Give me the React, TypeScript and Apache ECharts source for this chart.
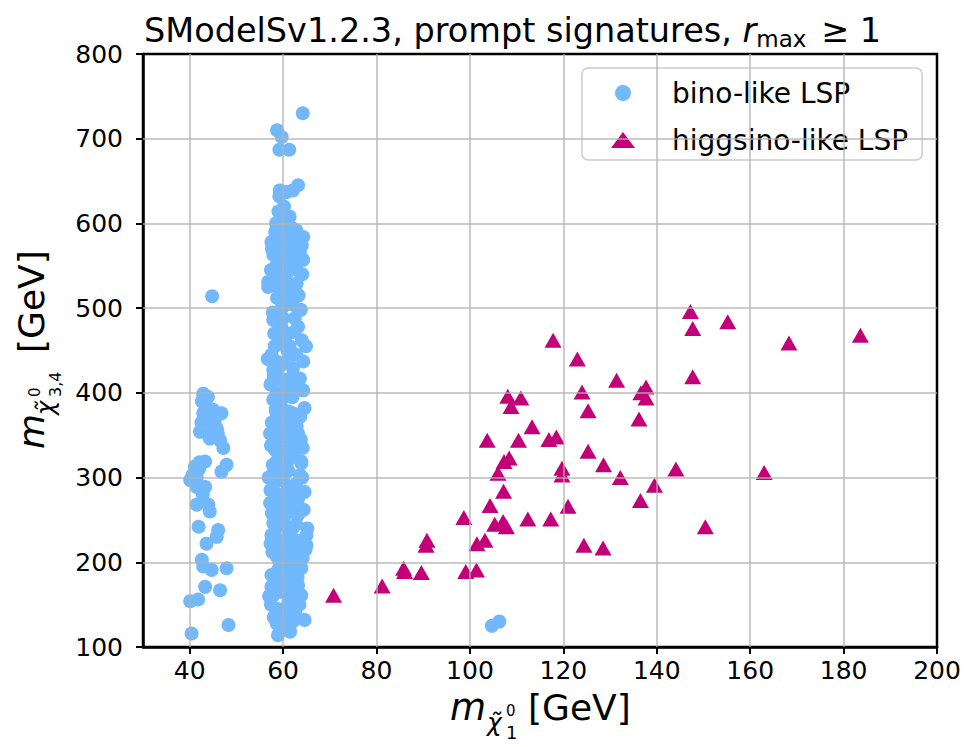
import React, { useEffect, useRef } from 'react';
import * as echarts from 'echarts';

const xTicks = [40, 60, 80, 100, 120, 140, 160, 180, 200];
const yTicks = [100, 200, 300, 400, 500, 600, 700, 800];
const xGrid = [40, 60, 80, 100, 120, 140, 160, 180];
const yGrid = [200, 300, 400, 500, 600, 700];

const seriesNames = ['bino-like LSP', 'higgsino-like LSP'];

const binoLeft: number[][] = [
  [44.8, 514], [42.9, 399], [42.6, 390], [43.6, 384], [45.0, 380], [46.8, 376], [42.9, 376], [44.3, 366],
  [42.2, 354], [45.8, 358], [44.3, 346], [46.5, 344], [47.2, 335], [43.3, 319], [41.1, 313], [47.9, 315],
  [46.8, 307], [40.1, 297], [41.5, 289], [43.3, 289], [41.5, 268], [44.0, 268], [44.3, 260], [41.9, 242],
  [46.1, 238], [45.8, 230], [43.6, 222], [42.6, 203], [42.9, 195], [44.7, 191], [47.9, 193], [43.3, 171],
  [46.5, 167], [41.8, 156], [40.1, 154], [48.3, 126], [40.4, 116], [40.6, 303], [42.1, 318], [44.9, 372],
  [43.9, 395], [43.0, 392], [44.0, 376], [45.5, 370], [44.5, 352], [42.5, 365], [46.0, 352], [41.5, 300],
  [42.8, 280], [42.0, 310],
];

const binoCentre: number[][] = [
  [64.2, 730], [58.7, 710], [59.7, 702], [59.2, 687], [61.3, 687], [59.3, 639], [60.7, 637], [63.2, 645],
  [62.1, 639], [59.2, 632], [59.0, 614], [61.4, 608], [60.0, 604], [59.3, 590], [57.5, 578], [64.3, 584],
  [57.9, 563], [63.6, 567], [58.6, 551], [64.3, 557], [56.8, 531], [60.7, 539], [59.0, 575], [61.0, 570],
  [62.0, 560], [60.0, 555], [63.0, 545], [58.0, 540], [61.0, 525], [62.0, 580], [64.0, 574], [59.0, 548],
  [56.8, 525], [59.3, 521], [62.9, 529], [62.1, 516], [62.1, 504], [60.0, 502], [57.9, 486], [60.0, 488],
  [63.2, 478], [60.7, 468], [58.2, 455], [61.4, 455], [58.6, 437], [64.3, 437], [57.9, 427], [62.1, 429],
  [58.6, 415], [63.6, 417], [64.3, 403], [58.6, 400], [60.7, 405], [57.9, 392], [64.6, 382], [58.6, 376],
  [62.1, 376], [58.9, 364], [62.5, 368], [57.2, 352], [63.2, 352], [59.3, 344], [62.1, 341], [58.2, 333],
  [60.7, 331], [63.9, 319], [58.6, 319], [60.7, 315], [58.6, 317], [63.9, 317], [57.9, 305], [63.6, 303],
  [64.6, 283], [57.2, 270], [62.1, 274], [58.6, 258], [63.2, 256], [57.9, 246], [60.7, 242], [65.0, 232],
  [57.5, 232], [65.0, 220], [59.3, 220], [62.5, 217], [58.6, 207], [61.4, 203], [63.9, 193], [58.9, 191],
  [57.5, 171], [63.2, 173], [60.4, 177], [57.9, 161], [63.9, 161], [61.8, 163], [60.7, 142], [60.0, 136],
  [64.6, 132], [62.1, 130], [58.6, 128], [58.9, 114], [60.0, 300], [61.0, 290], [59.0, 280], [62.0, 260],
  [60.0, 250], [61.0, 230], [59.0, 225], [62.0, 240], [60.0, 210], [63.0, 200], [60.0, 350], [61.0, 360],
  [59.0, 420], [61.0, 440], [60.0, 460], [62.0, 395], [59.0, 385], [60.0, 330], [61.0, 320], [60.0, 270],
  [57.0, 160], [59.5, 122],
  [58.3, 590], [60.4, 585], [62.8, 592], [57.6, 570], [63.4, 560], [59.8, 565], [61.7, 548], [57.4, 545],
  [64.1, 540], [60.2, 530], [62.6, 520], [58.7, 512], [61.3, 508], [63.8, 498], [57.8, 495], [59.6, 478],
  [62.4, 472], [58.1, 470], [64.0, 462], [60.9, 450], [57.5, 445], [62.8, 445], [59.4, 432], [61.8, 418],
  [57.3, 410], [63.1, 408], [60.3, 395], [58.4, 380], [63.7, 372], [61.2, 378], [57.6, 365], [60.1, 372],
  [62.9, 360], [58.9, 352], [61.6, 345], [57.4, 338], [64.2, 335], [59.7, 322], [62.3, 325], [57.8, 315],
  [61.1, 308], [64.1, 300], [58.5, 295], [62.7, 292], [57.3, 285], [60.6, 282], [63.2, 275], [59.1, 268],
  [61.9, 262], [57.6, 258], [64.4, 262], [60.3, 255], [62.8, 245], [58.2, 235], [61.4, 238], [57.3, 222],
  [63.6, 225], [60.1, 218], [62.2, 208], [57.7, 212], [64.2, 205], [59.4, 198], [61.7, 192], [57.5, 185],
  [63.1, 182], [60.6, 188], [58.3, 178], [62.4, 170], [59.8, 165], [57.4, 150], [63.5, 150], [61.1, 152],
  [58.8, 145], [62.6, 140], [59.9, 128], [61.5, 118], [58.0, 135], [64.8, 215], [65.2, 240], [56.9, 300],
  [56.7, 440], [64.9, 455], [63.8, 345], [58.0, 420], [60.5, 415], [62.3, 400], [59.2, 360], [61.5, 330],
  [60.2, 310], [59.0, 245], [62.0, 228], [60.8, 195], [58.6, 270], [63.0, 287], [60.0, 380], [61.0, 470],
  [59.5, 498], [62.5, 488], [60.6, 515], [58.9, 528], [63.3, 515], [61.8, 595], [60.2, 620], [58.5, 600],
];

const binoFar: number[][] = [[104.7, 125], [106.3, 130]];

const higgsinoPoints: number[][] = [
  [117.8, 462], [123.0, 440], [131.4, 415], [124.0, 401], [125.3, 379], [137.7, 407], [136.6, 400], [137.7, 394],
  [136.2, 369], [108.1, 396], [108.8, 384], [110.9, 394], [113.3, 360], [103.7, 344], [110.4, 344], [116.9, 345],
  [118.5, 348], [108.4, 323], [107.3, 319], [106.0, 305], [119.7, 311], [119.7, 303], [125.3, 331], [128.6, 315],
  [132.2, 300], [144.1, 310], [139.5, 291], [136.5, 273], [107.2, 284], [104.3, 267], [121.0, 266], [98.7, 253],
  [105.3, 245], [107.1, 248], [107.8, 242], [112.4, 251], [117.3, 251], [103.2, 226], [101.5, 222], [90.8, 226],
  [90.6, 220], [124.4, 220], [128.5, 217], [99.1, 189], [101.4, 191], [89.6, 188], [85.8, 193], [86.0, 189],
  [147.2, 496], [147.7, 476], [155.2, 484], [168.3, 459], [183.6, 468], [147.7, 419], [163.0, 306], [150.4, 242],
  [70.8, 161], [81.2, 172],
];

const FONT = 'DejaVu Sans';
const BLUE = '#72b8fc';
const MAGENTA = '#c20078';

export default function App() {
  const ref = useRef<HTMLDivElement>(null);
  useEffect(() => {
    const chart = echarts.init(ref.current!, null, { renderer: 'svg' });
    const option: any = {
      animation: false,
      backgroundColor: '#fff',
      textStyle: { fontFamily: FONT },
      title: {
        text: '{a|SModelSv1.2.3, prompt signatures, }{i|r}{s|max}{a| ≥ 1}',
        left: 139,
        top: 5,
        textStyle: {
          fontWeight: 'normal',
          rich: {
            a: { fontFamily: FONT, fontSize: 33.5, fontWeight: 'normal', color: '#000', lineHeight: 40 },
            i: { fontFamily: FONT, fontSize: 33.5, fontWeight: 'normal', fontStyle: 'italic', color: '#000', lineHeight: 40 },
            s: { fontFamily: FONT, fontSize: 23, fontWeight: 'normal', color: '#000', lineHeight: 26, verticalAlign: 'bottom', padding: [0, 4, 0, 0] },
          },
        },
      },
      grid: {
        left: 143, right: 28, top: 54, bottom: 100,
        show: true, borderColor: '#000', borderWidth: 2.5, backgroundColor: 'transparent',
      },
      legend: {
        left: 582,
        top: 68,
        orient: 'vertical',
        padding: [10, 14, 5, 29],
        itemWidth: 24,
        itemHeight: 16,
        itemGap: 17,
        backgroundColor: 'rgba(255,255,255,0.8)',
        borderColor: '#cccccc',
        borderWidth: 1.5,
        borderRadius: 6,
        textStyle: { fontFamily: FONT, fontSize: 28, color: '#000', lineHeight: 30, padding: [0, 0, 0, 32] },
        data: [
          { name: seriesNames[0], icon: 'circle' },
          { name: seriesNames[1], icon: 'triangle' },
        ],
      },
      xAxis: {
        type: 'value',
        min: 30,
        max: 200,
        axisLine: { show: true, onZero: false, lineStyle: { color: '#000', width: 2.5 } },
        axisTick: { show: true, customValues: xTicks, length: 7, lineStyle: { color: '#000', width: 2 } },
        axisLabel: { customValues: xTicks, fontFamily: FONT, fontSize: 25, lineHeight: 25, color: '#000', margin: 11 },
        splitLine: { show: false },
      },
      yAxis: {
        type: 'value',
        min: yTicks[0],
        max: yTicks[yTicks.length - 1],
        interval: 100,
        axisLine: { show: true, onZero: false, lineStyle: { color: '#000', width: 2.5 } },
        axisTick: { show: true, length: 7, lineStyle: { color: '#000', width: 2 } },
        axisLabel: { fontFamily: FONT, fontSize: 25, color: '#000', margin: 20 },
        splitLine: { show: false },
      },
      series: [
        {
          name: seriesNames[0],
          type: 'scatter',
          symbol: 'circle',
          symbolSize: 14,
          itemStyle: { color: BLUE, opacity: 1 },
          data: [...binoLeft, ...binoCentre, ...binoFar],
          markLine: {
            silent: true,
            symbol: 'none',
            label: { show: false },
            lineStyle: { color: '#b0b0b0', width: 2, type: 'solid', opacity: 0.65 },
            emphasis: { disabled: true },
            data: [...xGrid.map((v) => ({ xAxis: v })), ...yGrid.map((v) => ({ yAxis: v }))],
          },
        },
        {
          name: seriesNames[1],
          type: 'scatter',
          symbol: 'triangle',
          symbolSize: [17, 15],
          itemStyle: { color: MAGENTA, opacity: 1 },
          data: higgsinoPoints,
        },
      ],
      graphic: [
        {
          type: 'group',
          x: 450,
          y: 707,
          children: [
            { type: 'text', x: 0, y: 0, style: { text: 'm', font: `italic 37px "${FONT}"`, fill: '#000', verticalAlign: 'middle' } },
            { type: 'text', x: 37, y: 15, style: { text: 'χ̃', font: `italic 25px "${FONT}"`, fill: '#000', verticalAlign: 'middle' } },
            { type: 'text', x: 56, y: 4, style: { text: '0', font: `15px "${FONT}"`, fill: '#000', verticalAlign: 'middle' } },
            { type: 'text', x: 56, y: 25, style: { text: '1', font: `18px "${FONT}"`, fill: '#000', verticalAlign: 'middle' } },
            { type: 'text', x: 78, y: 0, style: { text: '[GeV]', font: `36px "${FONT}"`, fill: '#000', verticalAlign: 'middle' } },
          ],
        },
        {
          type: 'group',
          x: 31,
          y: 449,
          rotation: Math.PI / 2,
          children: [
            { type: 'text', x: 0, y: 0, style: { text: 'm', font: `italic 36px "${FONT}"`, fill: '#000', verticalAlign: 'middle' } },
            { type: 'text', x: 34, y: 15, style: { text: 'χ̃', font: `italic 24px "${FONT}"`, fill: '#000', verticalAlign: 'middle' } },
            { type: 'text', x: 52, y: 4, style: { text: '0', font: `15px "${FONT}"`, fill: '#000', verticalAlign: 'middle' } },
            { type: 'text', x: 52, y: 24, style: { text: '3,4', font: `16px "${FONT}"`, fill: '#000', verticalAlign: 'middle' } },
            { type: 'text', x: 96, y: 0, style: { text: '[GeV]', font: `36px "${FONT}"`, fill: '#000', verticalAlign: 'middle' } },
          ],
        },
      ],
    };
    chart.setOption(option);
    return () => chart.dispose();
  }, []);
  return <div ref={ref} style={{ position: 'fixed', left: 0, top: 0, width: 965, height: 747 }} />;
}
